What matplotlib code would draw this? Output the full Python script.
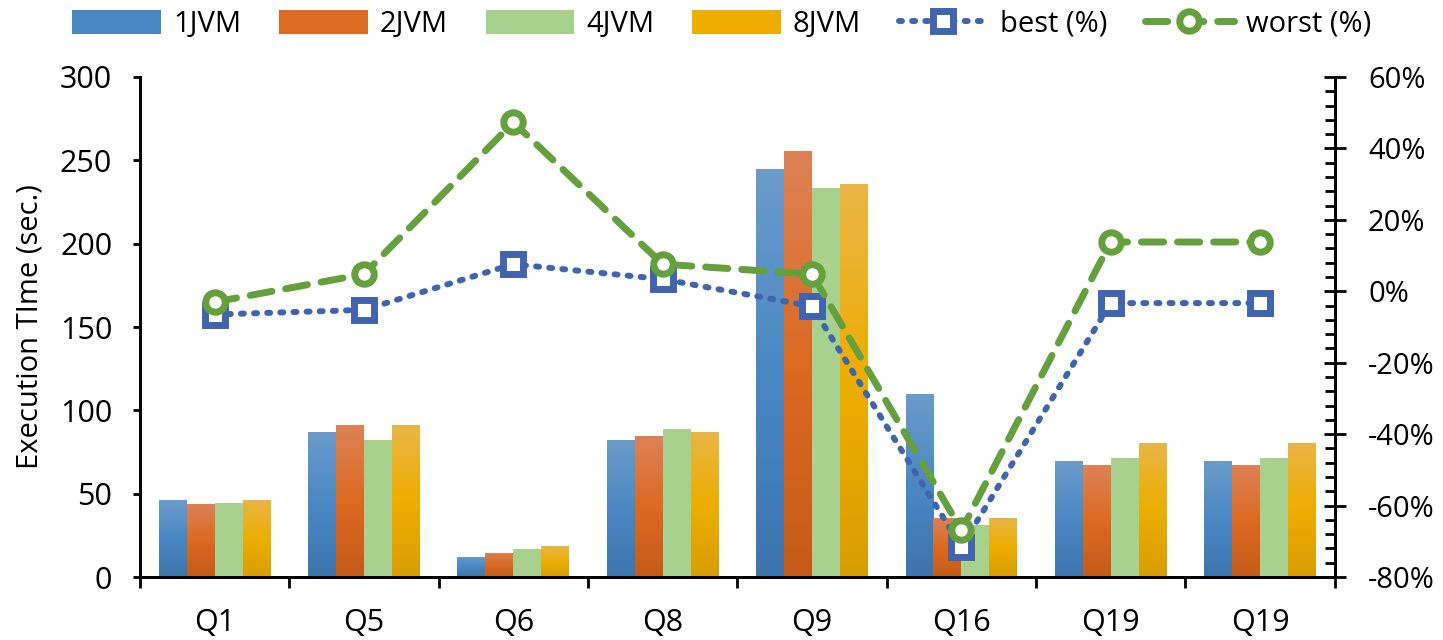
import matplotlib.pyplot as plt
import numpy as np
from matplotlib.colors import LinearSegmentedColormap
from matplotlib.ticker import MultipleLocator, FuncFormatter

plt.rcParams['font.family'] = ['Open Sans', 'DejaVu Sans']

queries = ["Q1", "Q5", "Q6", "Q8", "Q9", "Q16", "Q19", "Q19"]
jvm1 = [46, 87, 12, 82, 245, 110, 69.5, 69.5]
jvm2 = [44, 91, 14.5, 84.5, 255.5, 35.5, 67, 67]
jvm4 = [44.5, 82, 17, 89, 233.5, 31, 71.5, 71.5]
jvm8 = [46, 91, 18.5, 87, 236, 35.5, 80.5, 80.5]
best = [-6.5, -5.2, 7.6, 3.4, -4.2, -71.5, -3.3, -3.3]
worst = [-3.0, 4.8, 47.3, 7.6, 4.8, -66.9, 13.8, 13.8]

series = [("1JVM", jvm1, ["#6b9bca", "#4a88c4", "#3d74ae"]),
          ("2JVM", jvm2, ["#dd8255", "#db6a22", "#c55b19"]),
          ("4JVM", jvm4, ["#a9d18e", "#a9d18e", "#a9d18e"]),
          ("8JVM", jvm8, ["#e9b545", "#edae00", "#d89e00"])]

fig = plt.figure(figsize=(14.43, 6.40), dpi=100)
ax = fig.add_axes([0.097, 0.0984, 0.828, 0.7813])
ax2 = ax.twinx()

x = np.arange(len(queries))
w = 0.187
handles = []
for i, (name, vals, cols) in enumerate(series):
    bars = ax.bar(x + (i - 1.5) * w, vals, w, color=cols[1], label=name, zorder=2)
    # vertical gradient like the original bars
    cmap = LinearSegmentedColormap.from_list(name, cols[::-1])
    grad = np.linspace(0, 1, 100).reshape(-1, 1)
    for b in bars:
        bx, by = b.get_x(), b.get_y()
        bw, bh = b.get_width(), b.get_height()
        im = ax.imshow(grad, cmap=cmap, origin="lower", aspect="auto",
                       extent=(bx, bx + bw, by, by + bh), zorder=2.1)
        im.set_clip_path(b)
    handles.append(bars)

ax.set_xlim(-0.5, len(queries) - 0.5)
ax.set_ylim(0, 300)
ax.yaxis.set_major_locator(MultipleLocator(50))
ax.set_xticks(x)
ax.set_xticklabels(queries)
ax.set_xticks(np.arange(-0.5, len(queries), 1), minor=True)
ax.tick_params(axis="x", which="major", length=0, pad=22, labelsize=22)
ax.tick_params(axis="x", which="minor", length=8, width=2, direction="out")
ax.tick_params(axis="y", length=5, width=2, direction="out", labelsize=22, pad=15)
ax.set_ylabel("Execution TIme (sec.)", fontsize=21)
ax.yaxis.set_label_coords(-0.08, 0.5)

for s in ["top"]:
    ax.spines[s].set_visible(False)
    ax2.spines[s].set_visible(False)
for s in ["left", "bottom", "right"]:
    ax.spines[s].set_linewidth(2)
    ax2.spines[s].set_linewidth(2)

l1, = ax2.plot(x, best, linestyle=(0, (0.5, 1.7)), dash_capstyle="round", color="#3f65b0",
               linewidth=4.3, marker="s", markersize=14, markerfacecolor="white",
               markeredgecolor="#3f65b0", markeredgewidth=5, label="best (%)", zorder=4)
l2, = ax2.plot(x, worst, linestyle=(0, (3.2, 2.0)), dash_capstyle="round", color="#64a03c",
               linewidth=5, marker="o", markersize=14, markerfacecolor="white",
               markeredgecolor="#64a03c", markeredgewidth=5, label="worst (%)", zorder=4)
ax2.set_ylim(-80, 60)
ax2.yaxis.set_major_locator(MultipleLocator(20))
ax2.yaxis.set_minor_locator(MultipleLocator(4))
ax2.yaxis.set_major_formatter(FuncFormatter(lambda v, p: f"{v:.0f}%"))
ax2.tick_params(axis="y", which="major", length=16, width=2, direction="inout", labelsize=21, pad=16)
ax2.tick_params(axis="y", which="minor", length=7, width=2, direction="in")

ax.set_zorder(ax2.get_zorder() - 1)
ax2.patch.set_visible(False)

fig.legend(handles + [l1, l2], ["1JVM", "2JVM", "4JVM", "8JVM", "best (%)", "worst (%)"],
           loc="center", bbox_to_anchor=(0.5, 0.962), ncol=6, frameon=False,
           fontsize=21, handlelength=3.05, handleheight=0.9, columnspacing=1.3, handletextpad=0.4)

fig.savefig("out.png", dpi=100)
